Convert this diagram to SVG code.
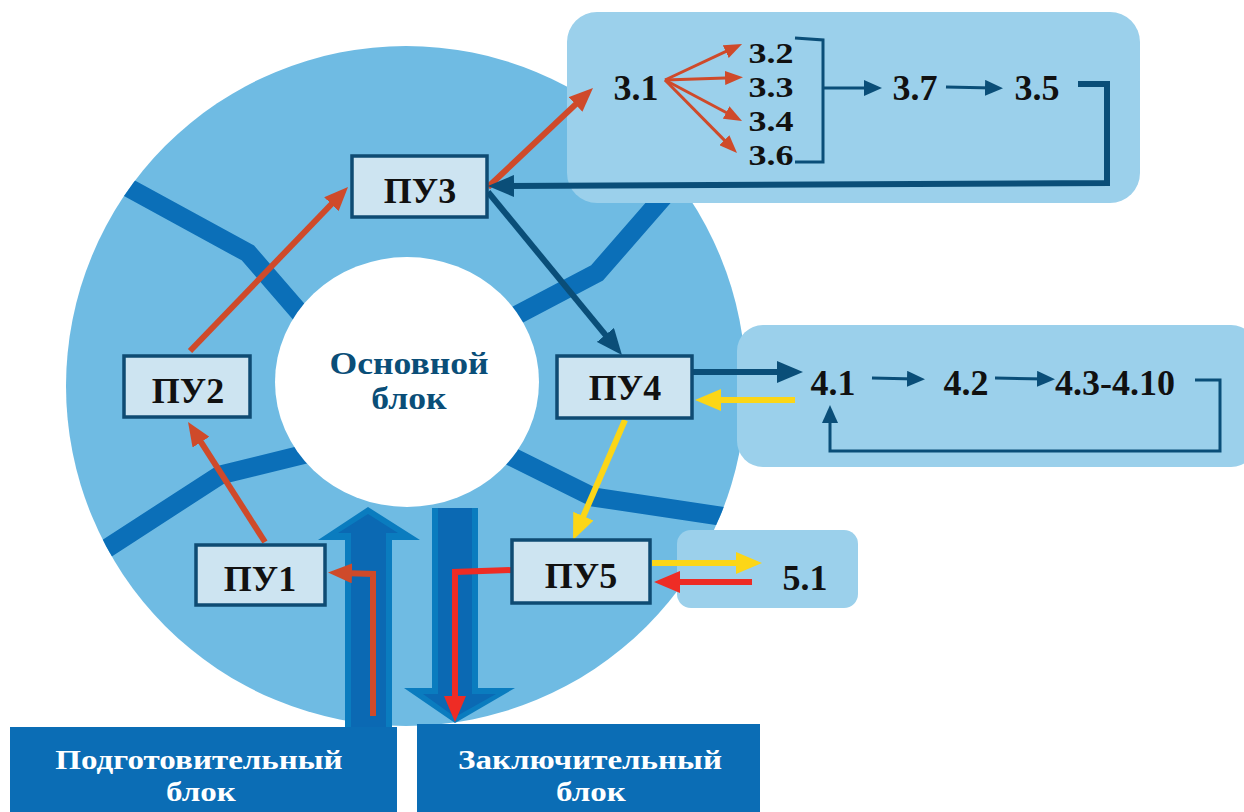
<svg xmlns="http://www.w3.org/2000/svg" width="1244" height="812" viewBox="0 0 1244 812">
<defs>
<style>
.t{font-family:"Liberation Serif","Times New Roman",serif;font-weight:bold;text-anchor:middle}
.lbl{font-size:36px;fill:#111}
.num{font-size:36px;fill:#111}
.col{font-size:30px;fill:#111}
.ctr{font-size:31px;fill:#0a4e78}
.blk{font-size:28px;fill:#ffffff}
.box{fill:#cde4f1;stroke:#0e4b73;stroke-width:3.5}
.call{fill:#9bd0eb}
.band{fill:none;stroke:#0b6fb8;stroke-width:19;stroke-linejoin:miter}
.or{fill:none;stroke:#cf4a2a;stroke-width:6}
.ors{fill:none;stroke:#cf4a2a;stroke-width:3}
.nv{fill:none;stroke:#0a4e78;stroke-width:6}
.nvs{fill:none;stroke:#0a4e78;stroke-width:3}
.ye{fill:none;stroke:#fcd617;stroke-width:6}
.rd{fill:none;stroke:#ee2c25;stroke-width:6}
</style>
<clipPath id="ring"><circle cx="406" cy="386" r="340"/></clipPath>
<marker id="ao" markerUnits="userSpaceOnUse" markerWidth="24" markerHeight="20" refX="10" refY="10" orient="auto"><path d="M0,0 L24,10 L0,20 Z" fill="#cf4a2a"/></marker>
<marker id="aos" markerUnits="userSpaceOnUse" markerWidth="18" markerHeight="14" refX="8" refY="7" orient="auto"><path d="M0,0 L18,7 L0,14 Z" fill="#cf4a2a"/></marker>
<marker id="an" markerUnits="userSpaceOnUse" markerWidth="26" markerHeight="22" refX="10" refY="11" orient="auto"><path d="M0,0 L26,11 L0,22 Z" fill="#0a4e78"/></marker>
<marker id="ans" markerUnits="userSpaceOnUse" markerWidth="18" markerHeight="16" refX="8" refY="8" orient="auto"><path d="M0,0 L18,8 L0,16 Z" fill="#0a4e78"/></marker>
<marker id="ay" markerUnits="userSpaceOnUse" markerWidth="26" markerHeight="22" refX="10" refY="11" orient="auto"><path d="M0,0 L26,11 L0,22 Z" fill="#fcd617"/></marker>
<marker id="ar" markerUnits="userSpaceOnUse" markerWidth="26" markerHeight="22" refX="10" refY="11" orient="auto"><path d="M0,0 L26,11 L0,22 Z" fill="#ee2c25"/></marker>
</defs>
<rect width="1244" height="812" fill="#ffffff"/>

<g id="ring-bg">
<circle cx="406" cy="386" r="340" fill="#6fbbe3"/>
<g clip-path="url(#ring)">
<polyline class="band" points="118,182 248,253 312,327"/>
<polyline class="band" points="92,558 220,475 322,450"/>
<polyline class="band" points="498,325 597,273 685,172"/>
<polyline class="band" points="498,450 593,497 760,522"/>
</g>
</g>

<g id="main-block">
<ellipse cx="407" cy="382" rx="132" ry="125" fill="#ffffff"/>
<text class="t ctr" transform="translate(409,374) scale(1.15,1)">Основной</text>
<text class="t ctr" transform="translate(409,409) scale(1.15,1)">блок</text>
</g>

<g id="big-flows">
<polygon points="345,740 345,540 318,540 368,507 420,540 392,540 392,740" fill="#0a7cbf"/>
<polygon points="351,740 351,533 338,533 368,514 398,533 386,533 386,740" fill="#0b69b3"/>
<polygon points="432,508 478,508 478,688 515,688 455,723 404,688 432,688" fill="#0a7cbf"/>
<polygon points="438,508 472,508 472,694 496,694 455,717 423,694 438,694" fill="#0b69b3"/>
</g>

<g id="block3">
<rect class="call" x="567" y="12" width="573" height="191" rx="30"/>
</g>
<g id="block4">
<rect class="call" x="737" y="325" width="520" height="142" rx="26"/>
</g>
<g id="block5">
<rect class="call" x="677" y="530" width="181" height="78" rx="14"/>
</g>

<g id="prep-block">
<rect x="10" y="727" width="387" height="90" fill="#0b6db5"/>
<text class="t blk" transform="translate(199,769) scale(1.18,1)">Подготовительный</text>
<text class="t blk" transform="translate(201,801) scale(1.18,1)">блок</text>
</g>
<g id="final-block">
<rect x="417" y="724" width="343" height="93" fill="#0b6db5"/>
<text class="t blk" transform="translate(590,769) scale(1.18,1)">Заключительный</text>
<text class="t blk" transform="translate(591,801) scale(1.18,1)">блок</text>
</g>

<g id="connectors">
<line class="or" x1="265" y1="542" x2="195.6" y2="433.7" marker-end="url(#ao)"/>
<line class="or" x1="190" y1="351" x2="338.3" y2="197" marker-end="url(#ao)"/>
<line class="or" x1="488" y1="187" x2="582.8" y2="97.6" marker-end="url(#ao)"/>
<line class="ors" x1="665" y1="80" x2="733" y2="48.2" marker-end="url(#aos)"/>
<line class="ors" x1="665" y1="80" x2="733" y2="77.7" marker-end="url(#aos)"/>
<line class="ors" x1="665" y1="80" x2="733.2" y2="116.3" marker-end="url(#aos)"/>
<line class="ors" x1="665" y1="80" x2="730" y2="145.9" marker-end="url(#aos)"/>
<polyline class="nvs" points="795,38 823,40 823,162 795,162"/>
<line class="nvs" x1="823" y1="88" x2="872" y2="88" marker-end="url(#ans)"/>
<line class="nvs" x1="946" y1="87" x2="993" y2="88" marker-end="url(#ans)"/>
<polyline class="nv" points="1078,84 1107,84 1107,183 504,186" marker-end="url(#an)"/>
<line class="nv" x1="488" y1="192" x2="611.8" y2="342.6" marker-end="url(#an)"/>
<line class="nv" x1="692" y1="372" x2="787" y2="372" stroke-width="7" marker-end="url(#an)"/>
<line class="ye" x1="795" y1="400" x2="711" y2="400" marker-end="url(#ay)"/>
<line class="ye" x1="625" y1="420" x2="579.4" y2="525.3" marker-end="url(#ay)"/>
<line class="nvs" x1="872" y1="378" x2="915" y2="379" marker-end="url(#ans)"/>
<line class="nvs" x1="995" y1="378" x2="1045" y2="379" marker-end="url(#ans)"/>
<polyline class="nvs" points="1195,380 1220,380 1220,451 830,451 830,415" marker-end="url(#ans)"/>
<line class="ye" x1="652" y1="563" x2="746" y2="563" marker-end="url(#ay)"/>
<line class="rd" x1="752" y1="582" x2="670" y2="582" marker-end="url(#ar)"/>
<polyline class="rd" points="512,570 455,572 455,706" marker-end="url(#ar)"/>
<polyline class="or" points="373,716 373,574 342,573" marker-end="url(#ao)"/>
</g>

<g id="items3">
<text class="t num" x="636" y="100">3.1</text>
<text class="t col" transform="translate(771,63) scale(1.2,1)">3.2</text>
<text class="t col" transform="translate(771,97) scale(1.2,1)">3.3</text>
<text class="t col" transform="translate(771,131) scale(1.2,1)">3.4</text>
<text class="t col" transform="translate(771,165) scale(1.2,1)">3.6</text>
<text class="t num" x="915" y="100">3.7</text>
<text class="t num" x="1037" y="100">3.5</text>
</g>
<g id="items4">
<text class="t num" x="833" y="395">4.1</text>
<text class="t num" x="966" y="395">4.2</text>
<text class="t num" x="1115" y="395">4.3-4.10</text>
</g>
<g id="items5">
<text class="t num" x="805" y="590">5.1</text>
</g>

<g id="PU1"><rect class="box" x="196" y="545" width="129" height="60"/><text class="t lbl" x="260" y="591">ПУ1</text></g>
<g id="PU2"><rect class="box" x="124" y="356" width="126" height="61"/><text class="t lbl" x="188" y="403">ПУ2</text></g>
<g id="PU3"><rect class="box" x="352" y="156" width="135" height="61"/><text class="t lbl" x="420" y="203">ПУ3</text></g>
<g id="PU4"><rect class="box" x="557" y="356" width="135" height="62"/><text class="t lbl" x="625" y="400">ПУ4</text></g>
<g id="PU5"><rect class="box" x="512" y="540" width="138" height="63"/><text class="t lbl" x="581" y="588">ПУ5</text></g>
</svg>
